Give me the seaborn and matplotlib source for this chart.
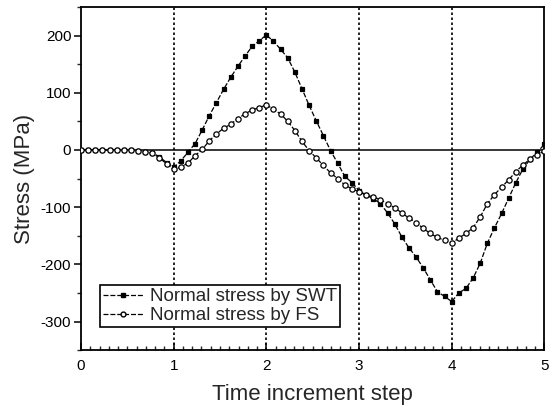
import numpy as np
import pandas as pd
import matplotlib
matplotlib.use("Agg")
import matplotlib.pyplot as plt
from matplotlib.lines import Line2D
from matplotlib.ticker import MultipleLocator
import seaborn as sns

# time steps (13 sampling points per unit step, 0..5)
step = np.arange(66) / 13.0

swt = [0, 0, 0, 0, 0, 0, 0, 0, -2, -4, -5, -12, -22, -30,
       -19, -4, 11, 35, 60, 83, 106, 127, 146, 164, 181, 191, 201,
       190, 176, 161, 136, 107, 78, 51, 25, -1, -23, -46, -57, -71,
       -79, -85, -94, -110, -129, -152, -171, -187, -206, -227, -248, -256, -265,
       -250, -242, -224, -198, -163, -136, -111, -84, -57, -33, -16, -4, 10]

fs = [0, 0, 0, 0, 0, 0, 0, 0, -2, -4, -5, -14, -24, -34,
      -30, -23, -10, 1, 16, 28, 38, 45, 55, 63, 70, 74, 79,
      71, 63, 50, 34, 15, -1, -14, -27, -40, -50, -61, -68, -73,
      -79, -82, -87, -94, -101, -110, -119, -127, -137, -146, -153, -158, -163,
      -154, -146, -136, -117, -94, -78, -65, -52, -38, -26, -16, -8, -2]

labels = ["Normal stress by SWT", "Normal stress by FS"]
xticks = [0, 1, 2, 3, 4, 5]
yticks = [-300, -200, -100, 0, 100, 200]

df = pd.DataFrame({
    "step": np.concatenate([step, step]),
    "stress": swt + fs,
    "series": [labels[0]] * len(step) + [labels[1]] * len(step),
})

sns.set_style("ticks")
plt.rcParams["font.family"] = ["Liberation Sans", "DejaVu Sans"]

fig = plt.figure(figsize=(5.51, 4.11), dpi=100)
ax = fig.add_axes([0.147, 0.148, 0.841, 0.835])

for xv in [1, 2, 3, 4]:
    ax.axvline(xv, color="black", lw=1.2, ls=(0, (1.5, 1.5)), zorder=1)
ax.axhline(0, color="black", lw=1.1, zorder=1)

sns.lineplot(data=df, x="step", y="stress", hue="series", style="series",
             palette=["black", "black"], markers=["s", "o"],
             dashes=[(4, 1.5), (4, 1.5)], markersize=3.2, linewidth=0.9,
             markeredgewidth=0.9, markeredgecolor="black",
             ax=ax, legend=False, zorder=3)

ax.lines[-1].set_markerfacecolor("white")
ax.lines[-1].set_markersize(3.8)

ax.set_xlim(0, 5)
ax.set_ylim(-350, 250)
ax.set_xticks(xticks)
ax.set_yticks(yticks)
ax.xaxis.set_minor_locator(MultipleLocator(0.1))
ax.yaxis.set_minor_locator(MultipleLocator(50))
ax.tick_params(axis="x", which="major", direction="in", length=5, width=1.1,
               labelsize=11, pad=6, colors="black")
ax.tick_params(axis="x", which="minor", direction="in", length=3, width=1.0)
ax.tick_params(axis="y", which="major", direction="out", length=5, width=1.1,
               labelsize=11, pad=2, colors="black")
ax.tick_params(axis="y", which="minor", direction="out", length=3, width=1.0)
ax.set_yticklabels([str(v) for v in yticks])

for sp in ax.spines.values():
    sp.set_color("black")
    sp.set_linewidth(1.3)

ax.set_xlabel("Time increment step", fontsize=16, labelpad=8)
ax.set_ylabel("Stress (MPa)", fontsize=16, labelpad=4)

handles = [
    Line2D([], [], color="black", lw=0.9, ls=(0, (4, 1.5)), marker="s",
           markersize=3.5, markerfacecolor="black", markeredgecolor="black"),
    Line2D([], [], color="black", lw=0.9, ls=(0, (4, 1.5)), marker="o",
           markersize=3.5, markerfacecolor="white", markeredgecolor="black"),
]
leg = ax.legend(handles, labels, loc="lower left",
                bbox_to_anchor=(0.041, 0.067), borderaxespad=0,
                fontsize=13.5, frameon=True, fancybox=False,
                handlelength=2.2, handletextpad=0.3, borderpad=0.15,
                labelspacing=0.1, edgecolor="black", framealpha=1)
leg.get_frame().set_linewidth(1.2)

fig.savefig("out.png", dpi=100)
